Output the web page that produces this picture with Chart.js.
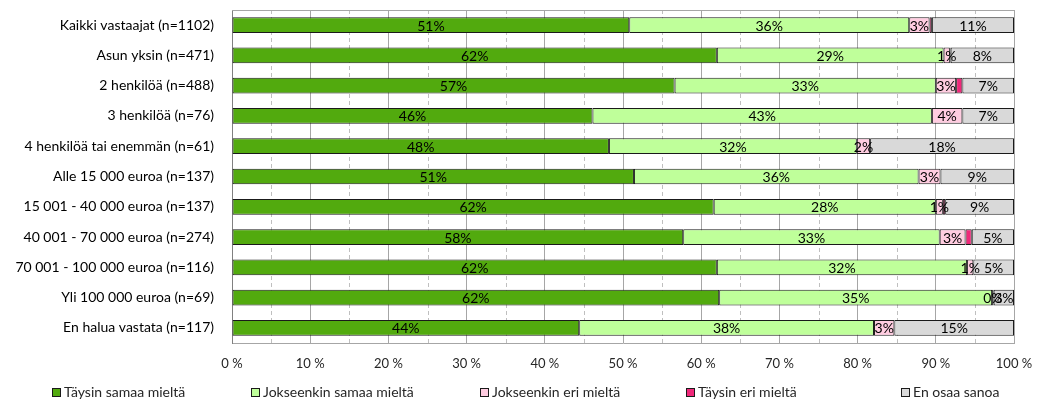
<!DOCTYPE html>
<html>
<head>
<meta charset="utf-8">
<script src="https://cdn.jsdelivr.net/npm/chart.js@4/dist/chart.umd.min.js"></script>
<style>
  html, body { margin: 0; padding: 0; background: #fff; }
  #wrap { width: 1037px; height: 408px; position: relative; }
</style>
</head>
<body>
<div id="wrap"><canvas id="surveyChart" width="1037" height="408"></canvas></div>
<script>
// Chart data (percent of respondents)
const categories = [
  "Kaikki vastaajat (n=1102)",
  "Asun yksin (n=471)",
  "2 henkilöä (n=488)",
  "3 henkilöä (n=76)",
  "4 henkilöä tai enemmän (n=61)",
  "Alle 15 000 euroa (n=137)",
  "15 001 - 40 000 euroa (n=137)",
  "40 001 - 70 000 euroa (n=274)",
  "70 001 - 100 000 euroa (n=116)",
  "Yli 100 000 euroa (n=69)",
  "En halua vastata (n=117)"
];
const seriesNames = ["Täysin samaa mieltä", "Jokseenkin samaa mieltä", "Jokseenkin eri mieltä", "Täysin eri mieltä", "En osaa sanoa"];
const taysinSamaa = [50.8, 62.0, 56.6, 46.1, 48.2, 51.4, 61.6, 57.7, 62.0, 62.3, 44.4];
const jokseenkinSamaa = [35.8, 29.0, 33.4, 43.4, 31.7, 36.4, 28.4, 32.8, 32.0, 34.9, 37.7];
const jokseenkinEri = [2.6, 0.8, 2.6, 3.9, 1.7, 2.8, 0.9, 3.3, 0.8, 0.2, 2.6];
const taysinEri = [0.3, 0.1, 0.8, 0, 0, 0, 0.3, 0.8, 0, 0, 0];
const enOsaa = [10.5, 8.1, 6.6, 6.6, 18.4, 9.4, 8.8, 5.4, 5.2, 2.6, 15.3];
const xTicks = [0, 10, 20, 30, 40, 50, 60, 70, 80, 90, 100];

const seriesColors = ["#52AA0E", "#BFFF9A", "#FFCCE0", "#F0287A", "#D9D9D9"];
const showLabels = [true, true, true, false, true];
const legendX = [52, 251, 480, 686, 901]; // legend box left edges
const FONT = "Lato, 'Open Sans', sans-serif";

const allSeries = [taysinSamaa, jokseenkinSamaa, jokseenkinEri, taysinEri, enOsaa];

const datasets = allSeries.map((values, i) => ({
  label: seriesNames[i],
  data: values,
  backgroundColor: seriesColors[i],
  borderColor: "#1a1a1a",
  borderWidth: 1,
  borderSkipped: false,
  barPercentage: 0.52,
  categoryPercentage: 1.0
}));

// dashed minor grid lines at 5 % steps + top frame line
const minorGrid = {
  id: "minorGrid",
  beforeDatasetsDraw(chart) {
    const { ctx, chartArea, scales } = chart;
    ctx.save();
    ctx.strokeStyle = "#BFBFBF";
    ctx.lineWidth = 1;
    ctx.setLineDash([4, 3]);
    for (let v = 5; v < 100; v += 10) {
      const x = Math.round(scales.x.getPixelForValue(v)) + 0.5;
      ctx.beginPath();
      ctx.moveTo(x, chartArea.top);
      ctx.lineTo(x, chartArea.bottom);
      ctx.stroke();
    }
    ctx.setLineDash([]);
    ctx.strokeStyle = "#A6A6A6";
    ctx.beginPath();
    ctx.moveTo(chartArea.left, Math.round(chartArea.top) + 0.5);
    ctx.lineTo(chartArea.right, Math.round(chartArea.top) + 0.5);
    ctx.stroke();
    ctx.restore();
  }
};

// value labels centered in each segment
const segmentLabels = {
  id: "segmentLabels",
  afterDatasetsDraw(chart) {
    const { ctx } = chart;
    ctx.save();
    ctx.font = "14px " + FONT;
    ctx.fillStyle = "#000";
    ctx.textAlign = "center";
    ctx.textBaseline = "middle";
    chart.data.datasets.forEach((ds, i) => {
      if (!showLabels[i]) return;
      chart.getDatasetMeta(i).data.forEach((bar, j) => {
        const cx = (bar.x + bar.base) / 2;
        ctx.fillText(Math.round(ds.data[j]) + "%", cx, bar.y + 1);
      });
    });
    ctx.restore();
  }
};

// legend drawn at Excel-like positions
const bottomLegend = {
  id: "bottomLegend",
  afterDraw(chart) {
    const { ctx } = chart;
    const y = 392;
    ctx.save();
    ctx.font = "14px " + FONT;
    ctx.textBaseline = "middle";
    ctx.textAlign = "left";
    seriesNames.forEach((name, i) => {
      const x = legendX[i];
      ctx.fillStyle = seriesColors[i];
      ctx.fillRect(x, y - 4, 8, 8);
      ctx.strokeStyle = "#1a1a1a";
      ctx.lineWidth = 1;
      ctx.strokeRect(x + 0.5, y - 3.5, 8, 8);
      ctx.fillStyle = "#262626";
      ctx.fillText(name, x + 12, y);
    });
    ctx.restore();
  }
};

new Chart(document.getElementById("surveyChart"), {
  type: "bar",
  data: { labels: categories, datasets: datasets },
  plugins: [minorGrid, segmentLabels, bottomLegend],
  options: {
    indexAxis: "y",
    responsive: false,
    animation: false,
    events: [],
    layout: { padding: { top: 10, right: 23, left: 0, bottom: 0 } },
    plugins: {
      legend: { display: false },
      tooltip: { enabled: false },
      title: { display: false }
    },
    scales: {
      x: {
        stacked: true,
        min: 0,
        max: 100,
        afterBuildTicks(scale) {
          scale.ticks = xTicks.map((v) => ({ value: v }));
        },
        afterFit(scale) {
          scale.height = 65;
          scale.paddingLeft = 0;
          scale.paddingRight = 0;
        },
        grid: { color: "#A6A6A6", lineWidth: 1, drawTicks: false },
        border: { display: true, color: "#A6A6A6" },
        ticks: {
          padding: 13,
          color: "#262626",
          font: { family: FONT, size: 13 },
          callback: (v) => v + " %"
        }
      },
      y: {
        stacked: true,
        afterFit(scale) {
          scale.width = 232;
          scale.paddingTop = 0;
          scale.paddingBottom = 0;
        },
        grid: { display: false, drawTicks: false },
        border: { display: true, color: "#808080" },
        ticks: {
          padding: 18,
          color: "#000",
          font: { family: FONT, size: 14 }
        }
      }
    }
  }
});
</script>
</body>
</html>
